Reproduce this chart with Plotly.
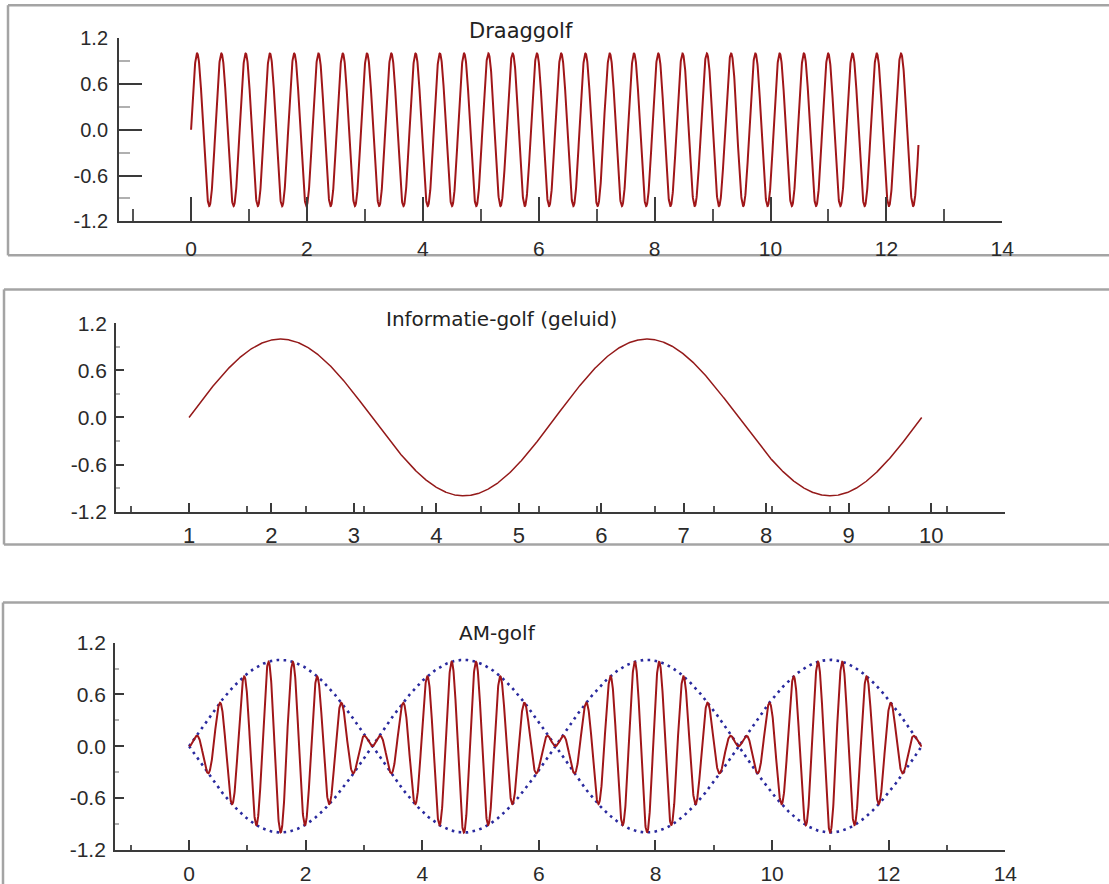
import numpy as np
import plotly.graph_objects as go

# ---- values ----
panel_titles = ["Draaggolf", "Informatie-golf (geluid)", "AM-golf"]
carrier_freq = 15          # carrier: 30 periods over 0..4*pi
info_freq = 1              # information wave: 2 periods over 0..4*pi
amplitude = 1.0
t_start = 0.0
carrier_t_end = 12.553
info_t_end = 12.566
am_t_end = 12.566

x_ticks = [0, 2, 4, 6, 8, 10, 12, 14]
x_tick_text = ["0", "2", "4", "6", "8", "10", "12", "14"]
info_tick_pos = [0.0, 1.414, 2.828, 4.243, 5.657, 7.071, 8.485, 9.899, 11.314, 12.728]
info_tick_text = ["1", "2", "3", "4", "5", "6", "7", "8", "9", "10"]
y_ticks = [-1.2, -0.6, 0.0, 0.6, 1.2]
y_tick_text = ["-1.2", "-0.6", "0.0", "0.6", "1.2"]

# ---- curves ----
t1 = np.linspace(t_start, carrier_t_end, 4000)
carrier = amplitude * np.sin(carrier_freq * t1)

t2 = np.linspace(t_start, info_t_end, 2000)
info = amplitude * np.sin(info_freq * t2)

t3 = np.linspace(t_start, am_t_end, 4000)
envelope = amplitude * np.sin(info_freq * t3)
am = envelope * np.sin(carrier_freq * t3)

RED = "#a01619"
RED2 = "#941a1a"
BLUE = "#2a2a9e"
AX = "#3a3a3a"

# figure size and the page-to-picture mapping measured on earlier runs
SHIFT = 12                       # page shifted up by this many px
W, H = 1121, 908
SX, SY, OY = 0.989, 0.974, 11.5 - 0.974 * SHIFT


def px_x(v):
    return (v / SX) / W


def px_y(v):
    return 1 - ((v - OY) / SY) / H


fig = go.Figure()
fig.add_trace(go.Scatter(x=t1, y=carrier, mode="lines", line=dict(color=RED, width=2),
                         xaxis="x", yaxis="y", hoverinfo="skip"))
fig.add_trace(go.Scatter(x=t2, y=info, mode="lines", line=dict(color=RED2, width=1.5),
                         xaxis="x2", yaxis="y2", hoverinfo="skip"))
fig.add_trace(go.Scatter(x=t3, y=envelope, mode="lines",
                         line=dict(color=BLUE, width=2.6, dash="2.6px,4.4px"),
                         xaxis="x3", yaxis="y3", hoverinfo="skip"))
fig.add_trace(go.Scatter(x=t3, y=-envelope, mode="lines",
                         line=dict(color=BLUE, width=2.6, dash="2.6px,4.4px"),
                         xaxis="x3", yaxis="y3", hoverinfo="skip"))
fig.add_trace(go.Scatter(x=t3, y=am, mode="lines", line=dict(color=RED, width=2),
                         xaxis="x3", yaxis="y3", hoverinfo="skip"))

# panel geometry in target pixels: (left, right, top, bottom), x range
panels = [
    (119, 1002, 38, 221, [-1.243, 14.0]),
    (116, 1005, 323, 511, [-1.252, 14.0]),
    (115, 1005, 642, 849, [-1.27, 14.0]),
]
xtick_len = [(24, 12), (8, 5), (10, 5)]
ytick_len = [(23, 11), (8, 4), (9, 4)]
xfont = [21, 22, 21]
yfont = [20, 21, 21]
x_standoff = [7, 3, 4]
y_standoff = [5, 3, 3]

layout = dict(
    width=W, height=H, margin=dict(l=0, r=0, t=0, b=0),
    paper_bgcolor="white", plot_bgcolor="white", showlegend=False,
)
for i, (l, r, t, b, xr) in enumerate(panels):
    sx = "" if i == 0 else str(i + 1)
    xa = dict(
        domain=[px_x(l), px_x(r)], range=xr, anchor="y" + sx,
        showline=True, linecolor=AX, linewidth=2, showgrid=False, zeroline=False,
        ticks="inside", ticklen=xtick_len[i][0] / SY, tickwidth=2, tickcolor=AX,
        tickfont=dict(family="Arial", size=xfont[i], color="#2a2a2a"),
        ticklabelstandoff=x_standoff[i], fixedrange=True,
    )
    if i == 1:
        xa.update(tickmode="array", tickvals=info_tick_pos, ticktext=info_tick_text,
                  minor=dict(ticks="inside", ticklen=xtick_len[i][1] / SY, tickcolor="#555",
                             tickmode="linear", tick0=0, dtick=1, showgrid=False))
    else:
        xa.update(tickmode="array", tickvals=x_ticks, ticktext=x_tick_text,
                  minor=dict(ticks="inside", ticklen=xtick_len[i][1] / SY, tickcolor="#555",
                             tickmode="linear", tick0=0, dtick=1, showgrid=False))
    ya = dict(
        domain=[px_y(b), px_y(t)], range=[-1.2, 1.2], anchor="x" + sx,
        showline=True, linecolor=AX, linewidth=2, showgrid=False, zeroline=False,
        tickmode="array", tickvals=y_ticks, ticktext=y_tick_text,
        ticks="inside", ticklen=ytick_len[i][0] / SX, tickwidth=2, tickcolor=AX,
        tickfont=dict(family="Arial", size=yfont[i], color="#2a2a2a"),
        ticklabelstandoff=y_standoff[i], fixedrange=True,
        minor=dict(ticks="inside", ticklen=ytick_len[i][1] / SX, tickcolor="#b0b0b0",
                   tickmode="linear", tick0=-1.2, dtick=0.3, showgrid=False),
    )
    layout["xaxis" + sx] = xa
    layout["yaxis" + sx] = ya

fig.update_layout(**layout)

# panel frames (open on the right / bottom where the reference cuts them off)
FRAME = dict(color="#a4a4a4", width=2.5)
frames = [(8, 5, 255), (4, 289, 544), (3, 602, None)]
for x0, y0, y1 in frames:
    top = px_y(y0)
    bottom = px_y(y1) if y1 is not None else 0
    fig.add_shape(type="line", xref="paper", yref="paper",
                  x0=px_x(x0), x1=1, y0=top, y1=top, line=FRAME, layer="below")
    fig.add_shape(type="line", xref="paper", yref="paper",
                  x0=px_x(x0), x1=px_x(x0), y0=top, y1=bottom, line=FRAME, layer="below")
    if y1 is not None:
        fig.add_shape(type="line", xref="paper", yref="paper",
                      x0=px_x(x0), x1=1, y0=bottom, y1=bottom, line=FRAME, layer="below")

# titles
title_pos = [(521, 31, 21), (501, 319, 20), (497, 632, 20)]
for txt, (cx, cy, fs) in zip(panel_titles, title_pos):
    fig.add_annotation(text=txt, xref="paper", yref="paper", x=px_x(cx), y=px_y(cy),
                       xanchor="center", yanchor="middle", showarrow=False,
                       font=dict(family="DejaVu Sans", size=fs, color="#222222"))

fig.write_html("out.html", config={"displayModeBar": False},
               post_script="document.body.style.margin='0';"
                           "document.body.style.marginTop='-%dpx';"
                           "document.body.style.overflow='hidden';" % SHIFT)
